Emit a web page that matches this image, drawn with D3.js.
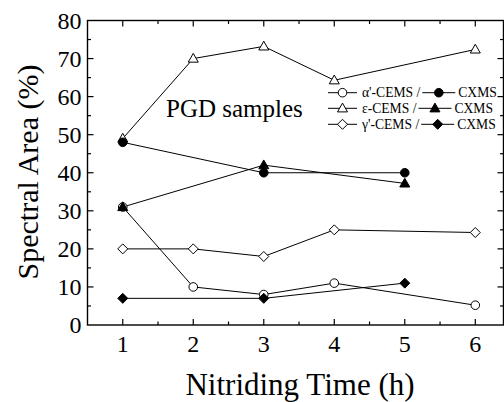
<!DOCTYPE html>
<html>
<head>
<meta charset="utf-8">
<script src="https://cdn.jsdelivr.net/npm/d3@7"></script>
<style>
  html, body { margin: 0; padding: 0; background: #fff; }
  svg { display: block; font-family: "Liberation Serif", "Times New Roman", serif; }
</style>
</head>
<body>
<svg id="chart" width="504" height="402"></svg>
<script>
// Nitriding time (h) for each measurement
const alphaCemsTime = [1, 2, 3, 4, 6];
const alphaCemsArea = [31, 10, 8, 11, 5.2];
const alphaCxmsTime = [1, 3, 5];
const alphaCxmsArea = [48, 40, 40];

const epsCemsTime = [1, 2, 3, 4, 6];
const epsCemsArea = [49, 70, 73.2, 64.3, 72.4];
const epsCxmsTime = [1, 3, 5];
const epsCxmsArea = [31, 42, 37.2];

const gammaCemsTime = [1, 2, 3, 4, 6];
const gammaCemsArea = [20, 20, 18, 25, 24.3];
const gammaCxmsTime = [1, 3, 5];
const gammaCxmsArea = [7, 7, 11];

const xTickValues = [1, 2, 3, 4, 5, 6];
const yTickValues = [0, 10, 20, 30, 40, 50, 60, 70, 80];

const svg = d3.select("#chart");
const plotL = 87.5, plotR = 503.5, plotT = 20.5, plotB = 325;

const x = d3.scaleLinear().domain([0.5, 6.4]).range([plotL, plotR]);
const y = d3.scaleLinear().domain([0, 80]).range([plotB, plotT]);

const pts = (t, v) => t.map((d, i) => ({ t: d, v: v[i] }));

const series = [
  { name: "alphaCems", data: pts(alphaCemsTime, alphaCemsArea), shape: "circle", filled: false },
  { name: "epsCems", data: pts(epsCemsTime, epsCemsArea), shape: "triangle", filled: false },
  { name: "gammaCems", data: pts(gammaCemsTime, gammaCemsArea), shape: "diamond", filled: false },
  { name: "alphaCxms", data: pts(alphaCxmsTime, alphaCxmsArea), shape: "circle", filled: true },
  { name: "gammaCxms", data: pts(gammaCxmsTime, gammaCxmsArea), shape: "diamond", filled: true },
  { name: "epsCxms", data: pts(epsCxmsTime, epsCxmsArea), shape: "triangle", filled: true }
];

const symbolPath = {
  circle: d3.symbol().type(d3.symbolCircle).size(58)(),
  triangle: "M0,-5.2L5,3.6L-5,3.6Z",
  diamond: "M0,-5L5,0L0,5L-5,0Z"
};

// axes box with inward ticks on all four sides
const axG = svg.append("g").attr("stroke", "#000").attr("fill", "none");
axG.append("rect")
  .attr("x", plotL).attr("y", plotT)
  .attr("width", plotR - plotL).attr("height", plotB - plotT)
  .attr("stroke-width", 1.4);

const xMinor = d3.range(0.5, 6.45, 0.5).filter(v => v > 0.5);
xMinor.forEach(v => {
  const major = Number.isInteger(v);
  const len = major ? 6 : 3.5;
  axG.append("line").attr("x1", x(v)).attr("x2", x(v)).attr("y1", plotB).attr("y2", plotB - len).attr("stroke-width", 1.2);
  axG.append("line").attr("x1", x(v)).attr("x2", x(v)).attr("y1", plotT).attr("y2", plotT + len).attr("stroke-width", 1.2);
});
d3.range(5, 80, 5).forEach(v => {
  const major = v % 10 === 0;
  const len = major ? 6 : 3.5;
  axG.append("line").attr("x1", plotL).attr("x2", plotL + len).attr("y1", y(v)).attr("y2", y(v)).attr("stroke-width", 1.2);
  axG.append("line").attr("x1", plotR).attr("x2", plotR - len).attr("y1", y(v)).attr("y2", y(v)).attr("stroke-width", 1.2);
});

// tick labels
svg.append("g").selectAll("text").data(xTickValues).join("text")
  .attr("x", d => x(d)).attr("y", 352)
  .attr("text-anchor", "middle").attr("font-size", 24).text(d => d);
svg.append("g").selectAll("text").data(yTickValues).join("text")
  .attr("x", 81.5).attr("y", d => y(d) + 8)
  .attr("text-anchor", "end").attr("font-size", 24).text(d => d);

// axis titles
svg.append("text").attr("x", 300).attr("y", 395)
  .attr("text-anchor", "middle").attr("font-size", 31).text("Nitriding Time (h)");
svg.append("text").attr("transform", "translate(38,172) rotate(-90)")
  .attr("text-anchor", "middle").attr("font-size", 30).text("Spectral Area (%)");

// series lines and markers
const line = d3.line().x(d => x(d.t)).y(d => y(d.v));
const plot = svg.append("g");
series.forEach(s => {
  plot.append("path").attr("d", line(s.data))
    .attr("fill", "none").attr("stroke", "#000").attr("stroke-width", 1);
});
series.forEach(s => {
  plot.append("g").selectAll("path").data(s.data).join("path")
    .attr("transform", d => `translate(${x(d.t)},${y(d.v)})`)
    .attr("d", symbolPath[s.shape])
    .attr("fill", s.filled ? "#000" : "#fff")
    .attr("stroke", "#000").attr("stroke-width", 1);
});

svg.append("text").attr("x", 166).attr("y", 116.5).attr("font-size", 25).text("PGD samples");

// legend
const legend = [
  { shape: "circle", label: "\u03b1'-CEMS /", y: 92.7 },
  { shape: "triangle", label: "\u03b5-CEMS /", y: 108.3 },
  { shape: "diamond", label: "\u03b3'-CEMS /", y: 124.3 }
];
const lg = svg.append("g").attr("font-size", 13.6);
legend.forEach(r => {
  lg.append("line").attr("x1", 328).attr("x2", 357).attr("y1", r.y).attr("y2", r.y).attr("stroke", "#000");
  lg.append("path").attr("transform", `translate(342.5,${r.y})`).attr("d", symbolPath[r.shape])
    .attr("fill", "#fff").attr("stroke", "#000");
  const t = lg.append("text").attr("x", 362).attr("y", r.y + 4.7).text(r.label);
  const w = t.node().getComputedTextLength();
  const x0 = 362 + w + 2;
  lg.append("line").attr("x1", x0).attr("x2", x0 + 33).attr("y1", r.y).attr("y2", r.y).attr("stroke", "#000");
  lg.append("path").attr("transform", `translate(${x0 + 16.5},${r.y})`).attr("d", symbolPath[r.shape])
    .attr("fill", "#000").attr("stroke", "#000");
  lg.append("text").attr("x", x0 + 36).attr("y", r.y + 4.7).text("CXMS");
});
</script>
</body>
</html>
